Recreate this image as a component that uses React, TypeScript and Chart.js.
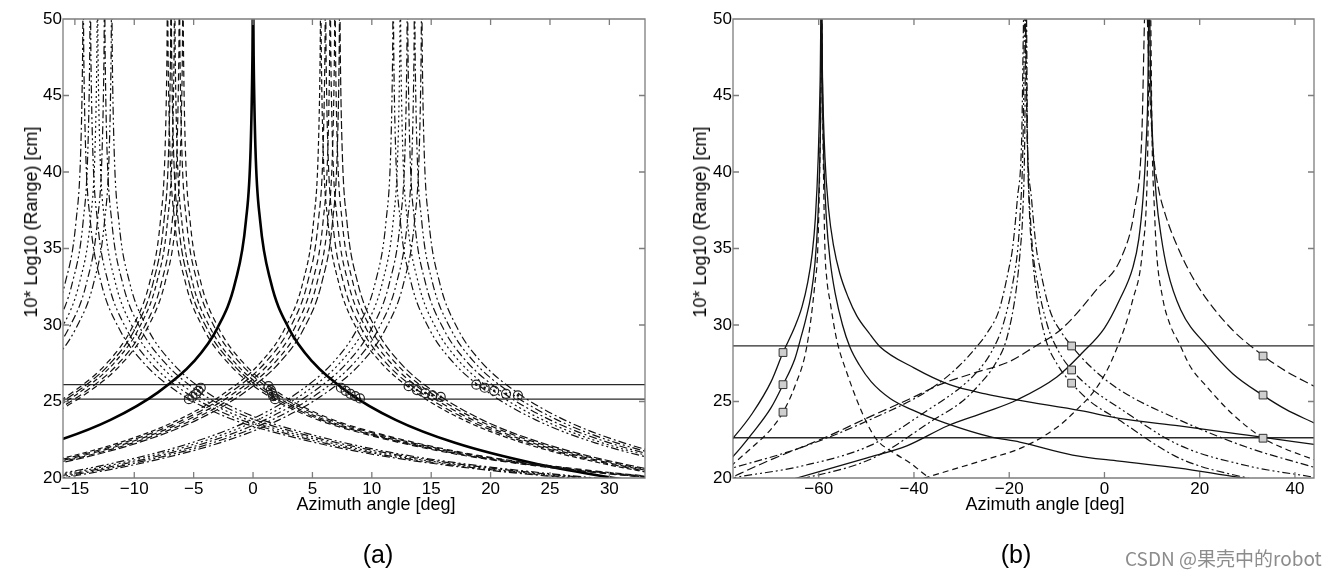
import React, { useEffect, useRef } from 'react';
import { Chart, registerables } from 'chart.js';

Chart.register(...registerables);

const FONT = '"Liberation Sans", Arial, Helvetica, sans-serif';

// ---------------- shared axis data ----------------
const yMin = 20;
const yMax = 50;
const yTicks = [20, 25, 30, 35, 40, 45, 50];
const yTitle = '10* Log10 (Range) [cm]';
const xTitle = 'Azimuth angle [deg]';

// ---------------- panel (a) ----------------
const aXMin = -16;
const aXMax = 33;
const aXTicks = [-15, -10, -5, 0, 5, 10, 15, 20, 25, 30];
const aRangeLines = [26.1, 25.15];

// range curve values (same ordering as the x arrays below)
const aCurveY = [18.7, 19.8, 20.9, 22.3, 23.8, 25.6, 27.6, 29.8, 32.8, 36.8, 41.6, 47.6, 52, 47.6, 41.6, 36.8, 32.8, 29.8, 27.6, 25.6, 23.8, 22.3, 20.9, 19.8, 18.7];
const aCurveYLeftGroups = [18.7, 19.8, 20.9, 22.3, 23.8, 25.6, 27.6, 29.8, 32.8, 36.8, 41.6, 47.6, 52, 47.6, 41.6, 36.8, 32.8, 29.8, 27.6, 25.6, 24.0, 22.8, 21.6, 20.7, 19.9];

const aSolidX = [-42, -32, -24, -17, -12, -8, -5, -3, -1.5, -0.6, -0.2, -0.05, 0, 0.05, 0.2, 0.6, 1.5, 3, 5, 8, 12, 17, 24, 32, 42];

const aGroupA_X = [
  [-56.3, -46.3, -38.3, -31.3, -26.3, -22.3, -19.3, -17.3, -15.8, -14.9, -14.5, -14.35, -14.3, -14.25, -14.1, -13.7, -12.8, -11.3, -9.3, -6.3, -2.3, 2.7, 9.7, 17.7, 27.7],
  [-55.7, -45.7, -37.7, -30.7, -25.7, -21.7, -18.7, -16.7, -15.2, -14.3, -13.9, -13.75, -13.7, -13.65, -13.5, -13.1, -12.2, -10.7, -8.7, -5.7, -1.7, 3.3, 10.3, 18.3, 28.3],
  [-55.1, -45.1, -37.1, -30.1, -25.1, -21.1, -18.1, -16.1, -14.6, -13.7, -13.3, -13.15, -13.1, -13.05, -12.9, -12.5, -11.6, -10.1, -8.1, -5.1, -1.1, 3.9, 10.9, 18.9, 28.9],
  [-54.5, -44.5, -36.5, -29.5, -24.5, -20.5, -17.5, -15.5, -14.0, -13.1, -12.7, -12.55, -12.5, -12.45, -12.3, -11.9, -11.0, -9.5, -7.5, -4.5, -0.5, 4.5, 11.5, 19.5, 29.5],
  [-53.9, -43.9, -35.9, -28.9, -23.9, -19.9, -16.9, -14.9, -13.4, -12.5, -12.1, -11.95, -11.9, -11.85, -11.7, -11.3, -10.4, -8.9, -6.9, -3.9, 0.1, 5.1, 12.1, 20.1, 30.1],
];
const aGroupB_X = [
  [-49.2, -39.2, -31.2, -24.2, -19.2, -15.2, -12.2, -10.2, -8.7, -7.8, -7.4, -7.25, -7.2, -7.15, -7.0, -6.6, -5.7, -4.2, -2.2, 0.8, 4.8, 9.8, 16.8, 24.8, 34.8],
  [-48.9, -38.9, -30.9, -23.9, -18.9, -14.9, -11.9, -9.9, -8.4, -7.5, -7.1, -6.95, -6.9, -6.85, -6.7, -6.3, -5.4, -3.9, -1.9, 1.1, 5.1, 10.1, 17.1, 25.1, 35.1],
  [-48.6, -38.6, -30.6, -23.6, -18.6, -14.6, -11.6, -9.6, -8.1, -7.2, -6.8, -6.65, -6.6, -6.55, -6.4, -6.0, -5.1, -3.6, -1.6, 1.4, 5.4, 10.4, 17.4, 25.4, 35.4],
  [-48.2, -38.2, -30.2, -23.2, -18.2, -14.2, -11.2, -9.2, -7.7, -6.8, -6.4, -6.25, -6.2, -6.15, -6.0, -5.6, -4.7, -3.2, -1.2, 1.8, 5.8, 10.8, 17.8, 25.8, 35.8],
  [-47.9, -37.9, -29.9, -22.9, -17.9, -13.9, -10.9, -8.9, -7.4, -6.5, -6.1, -5.95, -5.9, -5.85, -5.7, -5.3, -4.4, -2.9, -0.9, 2.1, 6.1, 11.1, 18.1, 26.1, 36.1],
];
const aGroupC_X = [
  [-36.3, -26.3, -18.3, -11.3, -6.3, -2.3, 0.7, 2.7, 4.2, 5.1, 5.5, 5.65, 5.7, 5.75, 5.9, 6.3, 7.2, 8.7, 10.7, 13.7, 17.7, 22.7, 29.7, 37.7, 47.7],
  [-35.9, -25.9, -17.9, -10.9, -5.9, -1.9, 1.1, 3.1, 4.6, 5.5, 5.9, 6.05, 6.1, 6.15, 6.3, 6.7, 7.6, 9.1, 11.1, 14.1, 18.1, 23.1, 30.1, 38.1, 48.1],
  [-35.5, -25.5, -17.5, -10.5, -5.5, -1.5, 1.5, 3.5, 5.0, 5.9, 6.3, 6.45, 6.5, 6.55, 6.7, 7.1, 8.0, 9.5, 11.5, 14.5, 18.5, 23.5, 30.5, 38.5, 48.5],
  [-35.1, -25.1, -17.1, -10.1, -5.1, -1.1, 1.9, 3.9, 5.4, 6.3, 6.7, 6.85, 6.9, 6.95, 7.1, 7.5, 8.4, 9.9, 11.9, 14.9, 18.9, 23.9, 30.9, 38.9, 48.9],
  [-34.7, -24.7, -16.7, -9.7, -4.7, -0.7, 2.3, 4.3, 5.8, 6.7, 7.1, 7.25, 7.3, 7.35, 7.5, 7.9, 8.8, 10.3, 12.3, 15.3, 19.3, 24.3, 31.3, 39.3, 49.3],
];
const aGroupD_X = [
  [-30.2, -20.2, -12.2, -5.2, -0.2, 3.8, 6.8, 8.8, 10.3, 11.2, 11.6, 11.75, 11.8, 11.85, 12.0, 12.4, 13.3, 14.8, 16.8, 19.8, 23.8, 28.8, 35.8, 43.8, 53.8],
  [-29.6, -19.6, -11.6, -4.6, 0.4, 4.4, 7.4, 9.4, 10.9, 11.8, 12.2, 12.35, 12.4, 12.45, 12.6, 13.0, 13.9, 15.4, 17.4, 20.4, 24.4, 29.4, 36.4, 44.4, 54.4],
  [-29.0, -19.0, -11.0, -4.0, 1.0, 5.0, 8.0, 10.0, 11.5, 12.4, 12.8, 12.95, 13.0, 13.05, 13.2, 13.6, 14.5, 16.0, 18.0, 21.0, 25.0, 30.0, 37.0, 45.0, 55.0],
  [-28.4, -18.4, -10.4, -3.4, 1.6, 5.6, 8.6, 10.6, 12.1, 13.0, 13.4, 13.55, 13.6, 13.65, 13.8, 14.2, 15.1, 16.6, 18.6, 21.6, 25.6, 30.6, 37.6, 45.6, 55.6],
  [-27.8, -17.8, -9.8, -2.8, 2.2, 6.2, 9.2, 11.2, 12.7, 13.6, 14.0, 14.15, 14.2, 14.25, 14.4, 14.8, 15.7, 17.2, 19.2, 22.2, 26.2, 31.2, 38.2, 46.2, 56.2],
];

const aCircleX = [-5.4, -5.1, -4.8, -4.6, -4.4, 1.3, 1.5, 1.6, 1.7, 1.85, 7.4, 7.8, 8.2, 8.6, 9.0, 13.1, 13.8, 14.5, 15.1, 15.8, 18.8, 19.5, 20.3, 21.3, 22.3];
const aCircleY = [25.15, 25.3, 25.5, 25.7, 25.9, 26.0, 25.75, 25.55, 25.35, 25.15, 25.9, 25.7, 25.5, 25.35, 25.2, 26.0, 25.75, 25.55, 25.4, 25.3, 26.1, 25.9, 25.7, 25.5, 25.4];

// ---------------- panel (b) ----------------
const bXMin = -78;
const bXMax = 44;
const bXTicks = [-60, -40, -20, 0, 20, 40];
const bRangeLines = [28.63, 22.63];

const bS1X = [-80, -78, -74, -70, -67.5, -65, -63.5, -62.3, -61.4, -60.7, -60.1, -59.7, -59.45, -59.2, -58.7, -57.9, -56.9, -55.6, -53.8, -52, -49.5, -47.2, -40, -32.5, -25, -18.4, -5, 3.1, 15.7, 30, 44];
const bS1Y = [21.9, 22.6, 24.2, 26.3, 28.2, 29.9, 31.2, 32.8, 34.6, 37.0, 41, 46, 52, 46, 41, 37.5, 35.2, 33.4, 31.8, 30.6, 29.5, 28.6, 27.2, 26.1, 25.5, 25.1, 24.4, 23.9, 23.4, 22.8, 22.2];
const bS2X = [-80, -78, -74, -70, -67.5, -65, -63.9, -62.7, -61.6, -60.8, -60.2, -59.8, -59.55, -59.4, -59.2, -58.9, -58.4, -57.6, -56.5, -55.0, -53.5, -51.5, -49, -45, -40, -33.5, -24.1, -17.8, -6.7, 3.1, 15.7, 28, 44];
const bS2Y = [20.8, 21.4, 22.9, 24.6, 26.1, 27.8, 29.0, 30.4, 32.0, 34.0, 36.8, 40.5, 45, 52, 45, 40.5, 37, 34.2, 32.0, 30.0, 28.6, 27.4, 26.3, 25.2, 24.4, 23.6, 22.7, 22.35, 21.5, 21.1, 20.65, 20.05, 19.4];
const bD1X = [-80, -78, -74, -70, -67.5, -65, -62.5, -60.8, -60.2, -59.8, -59.55, -59.4, -59.2, -59.0, -58.7, -58.3, -57.6, -56.2, -54, -52, -49.9, -47.8, -44, -40.9, -36.7, -33];
const bD1Y = [20.3, 20.9, 22.0, 23.2, 24.3, 26.0, 28.6, 32.7, 35, 40, 45, 52, 45, 40, 35, 33.0, 31.5, 29.0, 26.8, 25.1, 23.6, 22.5, 21.6, 21.0, 20.0, 19.4];

const bP2aX = [-80, -77.6, -63.6, -49.3, -36.6, -30.6, -26.7, -24.6, -22.1, -20.0, -19.3, -18.3, -17.4, -16.8, -16.2, -15.3, -14.3, -13.6, -11.5, -9.0, -6.9, -3.0, 3.0, 15.7, 30, 44];
const bP2aY = [20.5, 20.7, 22.0, 23.8, 25.8, 27.3, 28.63, 29.5, 31.0, 33.8, 35, 38.2, 42, 52, 42, 38.2, 35, 33.8, 31.0, 29.5, 28.63, 27.3, 25.8, 23.8, 22.0, 20.7];
const bP2bX = [-80, -77.3, -63.3, -49.0, -36.3, -30.3, -26.4, -23.8, -21.3, -19.1, -18.2, -17.75, -17.1, -16.65, -16.2, -15.55, -15.1, -14.2, -12.0, -9.5, -6.9, -3.0, 3.0, 15.7, 30, 44];
const bP2bY = [19.9, 20.05, 20.8, 22.15, 24.6, 25.9, 27.06, 28.2, 30, 33, 35, 37, 42, 52, 42, 37, 35, 33, 30, 28.2, 27.06, 25.9, 24.6, 22.15, 20.8, 20.05];
const bP2cX = [-80, -76.9, -62.9, -48.6, -35.9, -29.9, -26.0, -23.05, -20.45, -18.45, -17.65, -17.2, -16.75, -16.45, -16.15, -15.7, -15.25, -14.45, -12.45, -9.85, -6.9, -3.0, 3.0, 15.7, 30, 44];
const bP2cY = [19.0, 19.2, 20.0, 21.3, 23.8, 25.0, 26.2, 27.4, 29.2, 32.5, 35, 37, 42, 52, 42, 37, 35, 32.5, 29.2, 27.4, 26.2, 25.0, 23.8, 21.3, 20.0, 19.2];

const bP3sX = [-80, -64.6, -50, -41.5, -33, -25, -18.4, -10, -4.6, 0, 3.1, 6, 7.2, 8.1, 8.7, 9.1, 9.4, 9.7, 10.2, 10.9, 11.9, 13.2, 16, 21.6, 27, 33.3, 38, 44];
const bP3sY = [18.6, 20.0, 21.3, 22.1, 23.4, 24.3, 25.1, 26.6, 28.2, 29.8, 31.6, 33.8, 35.6, 38.3, 41.5, 45, 52, 46, 41.5, 38.3, 35.8, 33.6, 31.0, 28.6, 26.8, 25.4, 24.5, 23.6];
const bP3d1X = [-80, -70, -58.3, -50, -40, -34.6, -27, -20, -15.1, -8.8, -1.7, 3.8, 6.3, 7.8, 8.7, 9.4, 10.2, 11.3, 12.8, 15.5, 19.3, 26.2, 33.3, 38, 44];
const bP3d1Y = [19.8, 21.2, 22.7, 23.9, 25.3, 26.1, 26.9, 27.6, 28.5, 29.8, 32.3, 34.6, 37.5, 42, 52, 46, 41.5, 39.0, 37.2, 35.0, 32.7, 29.9, 28.0, 27.0, 26.0];
const bP3d2X = [-50, -34.6, -25, -17.2, -10, -6.7, -1.0, 2.5, 5.9, 8.0, 9.0, 9.6, 10.0, 10.5, 10.9, 12.2, 13.8, 15.7, 18, 21.4, 26.8, 33.3, 38, 44];
const bP3d2Y = [18.8, 20.3, 21.2, 22.0, 23.3, 24.2, 26.2, 28.4, 31.6, 34.9, 40, 52, 42, 37.5, 34.9, 31.8, 30.0, 28.8, 27.3, 26.0, 24.2, 22.6, 21.9, 21.2];

const bSquareX = [-67.5, -67.5, -67.5, -6.9, -6.9, -6.9, 33.3, 33.3, 33.3];
const bSquareY = [28.2, 26.1, 24.3, 28.63, 27.06, 26.2, 27.97, 25.42, 22.6];

// ---------------- styles ----------------
const SOLID: number[] = [];
const DASH = [6, 4];
const DASH_L = [9, 4];
const DASH_S = [5, 3];
const DASHDOT = [8, 3, 2, 3];
const DASHDOTDOT = [8, 3, 2, 3, 2, 3];
const DOT = [2, 3];

const pts = (xs: number[], ys: number[]) => xs.map((x, i) => ({ x, y: ys[i] }));

const curve = (xs: number[], ys: number[], dash: number[], width = 1.2, color = '#111') => ({
  data: pts(xs, ys),
  showLine: true,
  pointRadius: 0,
  pointHoverRadius: 0,
  borderColor: color,
  borderWidth: width,
  borderDash: dash,
  cubicInterpolationMode: 'monotone',
  fill: false,
  clip: 0,
  order: 2,
});

const hLine = (v: number, xMin: number, xMax: number) => ({
  data: [{ x: xMin, y: v }, { x: xMax, y: v }],
  showLine: true,
  pointRadius: 0,
  borderColor: '#2a2a2a',
  borderWidth: 1.3,
  fill: false,
  clip: 0,
  order: 3,
});

const markers = (xs: number[], ys: number[], style: string, radius: number, bg: string, border: string, bw: number) => ({
  data: pts(xs, ys),
  showLine: false,
  pointStyle: style,
  pointRadius: radius,
  pointHoverRadius: radius,
  backgroundColor: bg,
  borderColor: border,
  borderWidth: bw,
  clip: false,
  order: 0,
});

const fmtTick = (v: any) => {
  const n = Number(v);
  return n < 0 ? '\u2212' + String(Math.abs(n)) : String(n);
};

const boxPlugin = {
  id: 'matlabBox',
  afterDatasetsDraw(chart: any) {
    const { ctx, chartArea } = chart;
    const { left, right, top, bottom } = chartArea;
    const xs = chart.scales.x;
    const ys = chart.scales.y;
    const L = 6;
    ctx.save();
    ctx.strokeStyle = '#7d7d7d';
    ctx.lineWidth = 1.3;
    ctx.setLineDash([]);
    ctx.beginPath();
    ctx.rect(left, top, right - left, bottom - top);
    xs.ticks.forEach((t: any) => {
      const p = xs.getPixelForValue(t.value);
      ctx.moveTo(p, bottom);
      ctx.lineTo(p, bottom - L);
      ctx.moveTo(p, top);
      ctx.lineTo(p, top + L);
    });
    ys.ticks.forEach((t: any) => {
      const p = ys.getPixelForValue(t.value);
      ctx.moveTo(left, p);
      ctx.lineTo(left + L, p);
      ctx.moveTo(right, p);
      ctx.lineTo(right - L, p);
    });
    ctx.stroke();
    ctx.restore();
  },
};

function makeConfig(xMin: number, xMax: number, xTicks: number[], padRight: number, datasets: any[]) {
  return {
    type: 'scatter',
    data: { datasets },
    options: {
      animation: false,
      responsive: false,
      maintainAspectRatio: false,
      events: [],
      layout: { padding: { left: 0, right: padRight, top: 19, bottom: 40 } },
      plugins: { legend: { display: false }, tooltip: { enabled: false }, title: { display: false } },
      scales: {
        x: {
          type: 'linear',
          min: xMin,
          max: xMax,
          grid: { display: false, drawTicks: false },
          border: { display: false },
          ticks: { autoSkip: false, maxRotation: 0, padding: 1, color: '#000', font: { size: 17, family: FONT }, callback: fmtTick },
          afterBuildTicks: (s: any) => { s.ticks = xTicks.map((v) => ({ value: v })); },
          afterFit: (s: any) => { s.height = 60; },
        },
        y: {
          type: 'linear',
          min: yMin,
          max: yMax,
          grid: { display: false, drawTicks: false },
          border: { display: false },
          ticks: { autoSkip: false, padding: 1, color: '#000', font: { size: 17, family: FONT }, callback: fmtTick },
          afterBuildTicks: (s: any) => { s.ticks = yTicks.map((v) => ({ value: v })); },
          afterFit: (s: any) => { s.width = 63; },
        },
      },
    },
    plugins: [boxPlugin],
  };
}

const aStylesAD = [DASHDOT, DASHDOTDOT, DOT, DASHDOT, DASHDOTDOT];
const aStylesBC = [DASH, [8, 3], DASH_S, [7, 4], DASH];

function panelADatasets() {
  const ds: any[] = [];
  aRangeLines.forEach((v) => ds.push(hLine(v, aXMin - 5, aXMax + 5)));
  aGroupA_X.forEach((xs, i) => ds.push(curve(xs, aCurveYLeftGroups, aStylesAD[i])));
  aGroupB_X.forEach((xs, i) => ds.push(curve(xs, aCurveYLeftGroups, aStylesBC[i])));
  aGroupC_X.forEach((xs, i) => ds.push(curve(xs, aCurveY, aStylesBC[(i + 2) % 5])));
  aGroupD_X.forEach((xs, i) => ds.push(curve(xs, aCurveY, aStylesAD[(i + 1) % 5])));
  ds.push(curve(aSolidX, aCurveY, SOLID, 2.6, '#000'));
  ds.push(markers(aCircleX, aCircleY, 'circle', 4.5, 'rgba(255,255,255,0)', '#222', 1.2));
  ds.push(markers(aCircleX, aCircleY, 'circle', 1.3, '#111', '#111', 0));
  return ds;
}

function panelBDatasets() {
  const ds: any[] = [];
  bRangeLines.forEach((v) => ds.push(hLine(v, bXMin - 5, bXMax + 5)));
  ds.push(curve(bS1X, bS1Y, SOLID, 1.3));
  ds.push(curve(bS2X, bS2Y, SOLID, 1.3));
  ds.push(curve(bD1X, bD1Y, DASH, 1.2));
  ds.push(curve(bP2aX, bP2aY, DASHDOT, 1.2));
  ds.push(curve(bP2bX, bP2bY, DASHDOTDOT, 1.2));
  ds.push(curve(bP2cX, bP2cY, DASHDOT, 1.2));
  ds.push(curve(bP3sX, bP3sY, SOLID, 1.3));
  ds.push(curve(bP3d1X, bP3d1Y, DASH_L, 1.2));
  ds.push(curve(bP3d2X, bP3d2Y, DASH, 1.2));
  ds.push(markers(bSquareX, bSquareY, 'rect', 5.5, '#cfcfcf', '#333', 1));
  ds.push(markers(bSquareX, bSquareY, 'circle', 1.2, '#111', '#111', 0));
  return ds;
}

const textBase: any = { position: 'absolute', whiteSpace: 'nowrap', color: '#000', fontFamily: FONT };

export default function App() {
  const refA = useRef<HTMLCanvasElement | null>(null);
  const refB = useRef<HTMLCanvasElement | null>(null);

  useEffect(() => {
    if (!refA.current || !refB.current) return;
    const ca = new Chart(refA.current, makeConfig(aXMin, aXMax, aXTicks, 25, panelADatasets()) as any);
    const cb = new Chart(refB.current, makeConfig(bXMin, bXMax, bXTicks, 23, panelBDatasets()) as any);
    return () => {
      ca.destroy();
      cb.destroy();
    };
  }, []);

  const yTitleStyle = (cx: number, cy: number): any => ({
    ...textBase,
    left: cx,
    top: cy,
    fontSize: 18,
    lineHeight: '20px',
    transform: 'translate(-50%, -50%) rotate(-90deg)',
  });
  const xTitleStyle = (cx: number): any => ({
    ...textBase,
    left: cx,
    top: 495,
    fontSize: 18,
    lineHeight: '18px',
    transform: 'translateX(-50%)',
  });
  const panelLabel = (cx: number): any => ({
    ...textBase,
    left: cx,
    top: 554,
    fontSize: 25,
    lineHeight: '28px',
    transform: 'translate(-50%, -50%)',
  });

  return (
    <div style={{ position: 'absolute', left: 0, top: 0, width: 1337, height: 578, background: '#fff', overflow: 'hidden' }}>
      <canvas ref={refA} width={670} height={578} style={{ position: 'absolute', left: 0, top: 0, width: 670, height: 578 }} />
      <canvas ref={refB} width={667} height={578} style={{ position: 'absolute', left: 670, top: 0, width: 667, height: 578 }} />
      <div style={yTitleStyle(31, 222)}>{yTitle}</div>
      <div style={yTitleStyle(700, 222)}>{yTitle}</div>
      <div style={xTitleStyle(376)}>{xTitle}</div>
      <div style={xTitleStyle(1045)}>{xTitle}</div>
      <div style={panelLabel(378)}>(a)</div>
      <div style={panelLabel(1016)}>(b)</div>
      <div style={{ ...textBase, left: 1125, top: 547, fontSize: 19, lineHeight: '22px', color: '#8c8c8c', fontFamily: '"Noto Sans CJK SC", "Noto Sans", sans-serif' }}>
        CSDN @果壳中的robot
      </div>
    </div>
  );
}
